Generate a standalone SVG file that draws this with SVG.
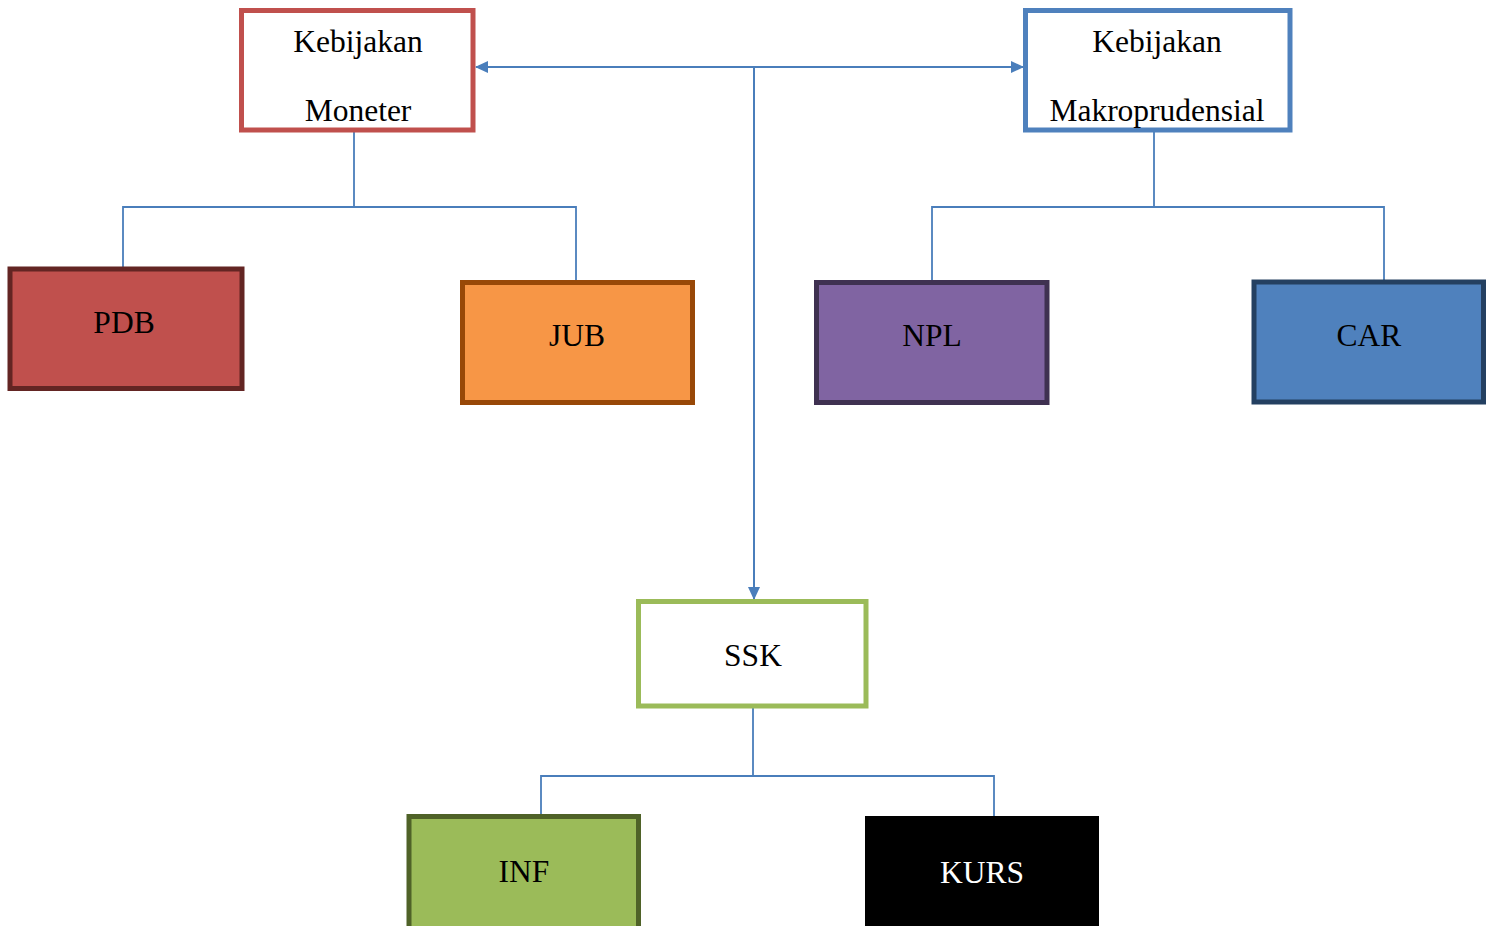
<svg xmlns="http://www.w3.org/2000/svg" width="1489" height="926" viewBox="0 0 1489 926">
  <style>
    .box { stroke-width: 5; }
    .lbl { font-family: "Liberation Serif", "Times New Roman", serif; font-size: 31.5px; text-anchor: middle; fill: #000; }
    .conn { fill: none; stroke: #4A7EBB; stroke-width: 1.8; }
  </style>
  <defs>
    <marker id="arr" markerUnits="userSpaceOnUse" markerWidth="14" markerHeight="12" refX="12" refY="6" orient="auto-start-reverse" viewBox="0 0 14 12">
      <path d="M0,0 L13,6 L0,12 Z" fill="#4A7EBB"/>
    </marker>
  </defs>
  <rect width="1489" height="926" fill="#fff"/>

  <g id="connectors">
    <path class="conn" d="M476,67 H1023" marker-start="url(#arr)" marker-end="url(#arr)" style="stroke-width:2"/>
    <path class="conn" d="M754,67 V599" marker-end="url(#arr)" style="stroke-width:2"/>
    <path class="conn" d="M354,132 V207 M123,267 V207 H576 V280"/>
    <path class="conn" d="M1154,132 V207 M932,280 V207 H1384 V280"/>
    <path class="conn" d="M753,708 V776 M541,814 V776 H994 V816"/>
  </g>

  <g id="kebijakan-moneter">
    <rect class="box" x="241.5" y="10.5" width="231.5" height="119.5" fill="#fff" stroke="#C0504D"/>
    <text class="lbl" x="358" y="52">Kebijakan</text>
    <text class="lbl" x="358" y="121">Moneter</text>
  </g>
  <g id="kebijakan-makroprudensial">
    <rect class="box" x="1025.5" y="10.5" width="264.5" height="119.5" fill="#fff" stroke="#4F81BD"/>
    <text class="lbl" x="1157" y="52">Kebijakan</text>
    <text class="lbl" x="1157" y="121">Makroprudensial</text>
  </g>
  <g id="pdb">
    <rect class="box" x="10" y="269" width="232" height="119.5" fill="#C0504D" stroke="#632523"/>
    <text class="lbl" x="124" y="333">PDB</text>
  </g>
  <g id="jub">
    <rect class="box" x="462.5" y="282.5" width="230" height="120" fill="#F79646" stroke="#984807"/>
    <text class="lbl" x="577" y="346">JUB</text>
  </g>
  <g id="npl">
    <rect class="box" x="816.5" y="282.5" width="230.5" height="120" fill="#8064A2" stroke="#3F3151"/>
    <text class="lbl" x="932" y="346">NPL</text>
  </g>
  <g id="car">
    <rect class="box" x="1254" y="282" width="229.5" height="120" fill="#4F81BD" stroke="#244061"/>
    <text class="lbl" x="1369" y="346">CAR</text>
  </g>
  <g id="ssk">
    <rect class="box" x="638.5" y="601.5" width="227.5" height="104.5" fill="#fff" stroke="#9BBB59"/>
    <text class="lbl" x="753" y="666">SSK</text>
  </g>
  <g id="inf">
    <rect class="box" x="409" y="816.5" width="229.5" height="120" fill="#9BBB59" stroke="#4F6228"/>
    <text class="lbl" x="524" y="882">INF</text>
  </g>
  <g id="kurs">
    <rect x="865" y="816" width="234" height="115" fill="#000"/>
    <text class="lbl" x="982" y="883" style="fill:#fff">KURS</text>
  </g>
</svg>
